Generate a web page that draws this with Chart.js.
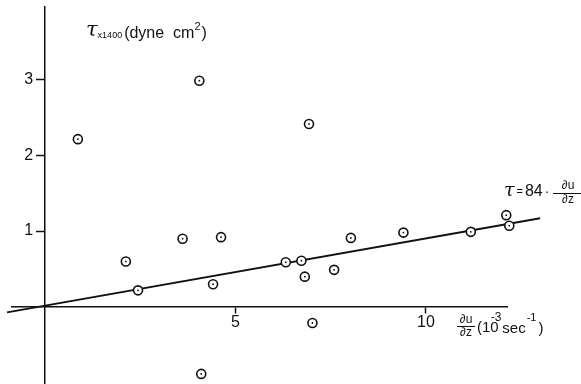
<!DOCTYPE html>
<html>
<head>
<meta charset="utf-8">
<script src="https://cdn.jsdelivr.net/npm/chart.js@4/dist/chart.umd.min.js"></script>
<style>
  html, body { margin: 0; padding: 0; background: #fff; }
  #wrap { width: 581px; height: 384px; position: relative; }
</style>
</head>
<body>
<div id="wrap"><canvas id="c"></canvas></div>
<script>
// shear rate du/dz (10^-3 sec^-1) and stress tau x1400
const shearX = [0.86, 2.12, 2.44, 3.61, 4.05, 4.10, 4.41, 4.62, 6.32, 6.73, 6.82, 6.93, 7.02, 7.59, 8.03, 9.41, 11.18, 12.11, 12.19];
const stressY = [2.21, 0.60, 0.22, 0.90, 2.98, -0.88, 0.30, 0.92, 0.59, 0.61, 0.40, 2.41, -0.21, 0.49, 0.91, 0.98, 0.99, 1.21, 1.07];

// fitted line tau = 84 * du/dz
const fitX = [-1.0, 13.0];
const fitY = [-0.07, 1.17];

const xTicks = [5, 10];
const yTicks = [1, 2, 3];

const pts = shearX.map((x, i) => ({ x, y: stressY[i] }));
const fit = fitX.map((x, i) => ({ x, y: fitY[i] }));

const INK = "#111";

// annotation text (title, equation, axis label)
const labels = {
  id: "labels",
  afterDraw(chart) {
    const c = chart.ctx;
    c.save();
    c.fillStyle = INK;
    c.strokeStyle = INK;
    c.textBaseline = "middle";
    c.textAlign = "left";
    const put = (txt, x, y, font) => { c.font = font; c.fillText(txt, x, y); return x + c.measureText(txt).width; };

    // y axis title
    let x = put("τ", 86, 31, "italic 21px 'DejaVu Serif'");
    x = put("x1400", x, 36, "9px 'Liberation Sans'");
    x = put("(dyne  cm", x + 2, 34, "16px 'Liberation Sans'");
    x = put("2", x, 27, "11px 'Liberation Sans'");
    put(")", x + 1, 34, "16px 'Liberation Sans'");

    // equation of the fit
    x = put("τ", 504, 191, "italic 19px 'DejaVu Serif'");
    x = put("=", x + 2, 192, "11px 'Liberation Sans'");
    x = put("84", x + 2, 192, "16px 'Liberation Sans'");
    x = put("·", x + 2, 192, "14px 'Liberation Sans'");
    c.textAlign = "center";
    put("∂u", 568, 186, "12px 'Liberation Sans'");
    put("∂z", 568, 200, "12px 'Liberation Sans'");
    c.lineWidth = 1;
    c.beginPath(); c.moveTo(553, 193.5); c.lineTo(581, 193.5); c.stroke();

    // x axis label
    put("∂u", 466, 320, "12px 'Liberation Sans'");
    put("∂z", 466, 333, "12px 'Liberation Sans'");
    c.beginPath(); c.moveTo(457, 326.5); c.lineTo(475, 326.5); c.stroke();
    c.textAlign = "left";
    x = put("(10", 477, 328, "15px 'Liberation Sans'");
    x = put("-3", x - 8, 318, "12px 'Liberation Sans'");
    x = put("sec", x + 1, 329, "15px 'Liberation Sans'");
    x = put("-1", x + 1, 318, "11px 'Liberation Sans'");
    put(")", x + 2, 329, "15px 'Liberation Sans'");
    c.restore();
  }
};

const axisGrid = len => ({ display: true, drawOnChartArea: false, drawTicks: true, tickLength: len, tickColor: INK, tickWidth: 1.5 });
const noPad = s => { s.paddingTop = 0; s.paddingBottom = 0; s.paddingLeft = 0; s.paddingRight = 0; };

new Chart(document.getElementById("c"), {
  type: "scatter",
  data: {
    datasets: [
      { label: "fit", data: fit, showLine: true, borderColor: INK, borderWidth: 2, pointRadius: 0, clip: false, order: 3 },
      { label: "obs", data: pts, pointStyle: "circle", pointRadius: 4.5, pointBorderWidth: 1.6,
        pointBorderColor: INK, pointBackgroundColor: "#fff", clip: false, order: 2 },
      { label: "obs centre", data: pts, pointStyle: "circle", pointRadius: 0.9, pointBorderWidth: 0,
        pointBackgroundColor: INK, clip: false, order: 1 }
    ]
  },
  options: {
    responsive: true,
    maintainAspectRatio: false,
    animation: false,
    events: [],
    layout: { autoPadding: false, padding: { left: 12, right: 74, top: 7, bottom: 0 } },
    plugins: { legend: { display: false }, tooltip: { enabled: false } },
    scales: {
      x: {
        type: "linear", min: -0.87, max: 12.13, position: { y: 0 },
        grid: axisGrid(6),
        border: { display: true, color: INK, width: 1.5 },
        ticks: { color: INK, font: { size: 16, family: "'Liberation Sans'" }, padding: 0 },
        afterBuildTicks: s => { s.ticks = xTicks.map(v => ({ value: v })); },
        afterFit: s => { s.height = 0; noPad(s); }
      },
      y: {
        type: "linear", min: -1.013, max: 3.95, position: { x: 0 },
        grid: axisGrid(8),
        border: { display: true, color: INK, width: 1.5 },
        ticks: { color: INK, font: { size: 16, family: "'Liberation Sans'" }, callback: v => v + "  \u2009" },
        afterBuildTicks: s => { s.ticks = yTicks.map(v => ({ value: v })); },
        afterFit: s => { s.width = 0; noPad(s); }
      }
    }
  },
  plugins: [labels]
});
</script>
</body>
</html>
